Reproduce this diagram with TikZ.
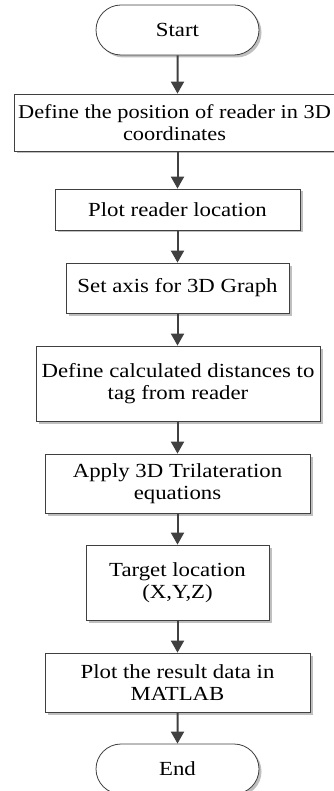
\documentclass[tikz,border=0pt]{standalone}
\usepackage{fontspec}
\setmainfont[FakeStretch=1.14]{Liberation Serif}
\usetikzlibrary{arrows.meta,shapes.misc,shadows}
\begin{document}
\begin{tikzpicture}[x=1pt,y=-1pt,
  every node/.style={font=\fontsize{20}{22}\selectfont},
  box/.style={draw=black!75, line width=0.8pt, fill=white, align=center, inner sep=0pt,
    drop shadow={shadow xshift=2.5pt, shadow yshift=-2.5pt, fill=black!25, opacity=1}},
  term/.style={box, rounded rectangle},
  flow/.style={draw=black!75, line width=2pt, -{Triangle[length=12pt,width=13pt]}}]
\useasboundingbox (0,0) rectangle (334,791);
\node[term, minimum width=163pt, minimum height=50pt] (start) at (177.5,30) {Start};
\node[box, minimum width=321pt, minimum height=57pt, font=\fontsize{19.6}{22}\selectfont] (b1) at (174.5,122.5) {Define the position of reader in 3D\\coordinates};
\node[box, minimum width=245pt, minimum height=41pt] (b2) at (177.5,209.5) {Plot reader location};
\node[box, minimum width=223pt, minimum height=50pt] (b3) at (177.5,288) {Set axis for 3D Graph};
\node[box, minimum width=284pt, minimum height=75pt] (b4) at (178,383.5) {Define calculated distances to\\tag from reader};
\node[box, minimum width=265pt, minimum height=59pt] (b5) at (177.5,483.5) {Apply 3D Trilateration\\equations};
\node[box, minimum width=183pt, minimum height=75pt] (b6) at (177.5,582.5) {Target location\\(X,Y,Z)};
\node[box, minimum width=265pt, minimum height=59pt] (b7) at (177.5,682.5) {Plot the result data in\\MATLAB};
\node[term, minimum width=163pt, minimum height=50pt] (end) at (177.5,769) {End};
\draw[flow] (start) -- (b1.north -| start.south);
\draw[flow] (b1.south -| start.south) -- (b2);
\draw[flow] (b2) -- (b3);
\draw[flow] (b3) -- (b4.north -| b3.south);
\draw[flow] (b4.south -| b3.south) -- (b5);
\draw[flow] (b5) -- (b6);
\draw[flow] (b6) -- (b7);
\draw[flow] (b7) -- (end);
\end{tikzpicture}
\end{document}
